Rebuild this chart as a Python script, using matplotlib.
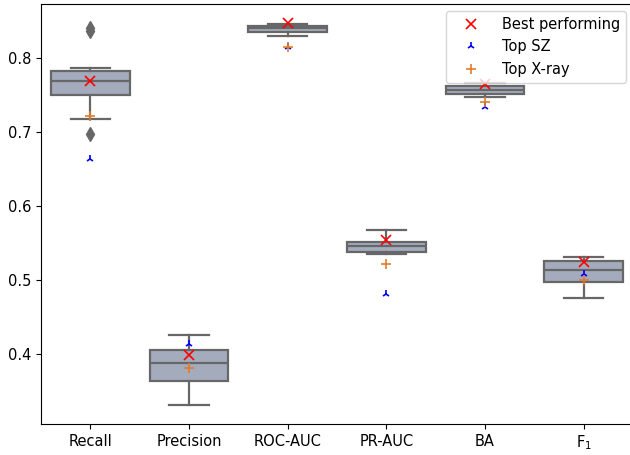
import matplotlib
matplotlib.use('Agg')
import matplotlib.pyplot as plt

# metricas
metricas = ['Recall', 'Precision', 'ROC-AUC', 'PR-AUC', 'BA', r'F$_1$']

# estadisticas de las cajas
q1 = [0.750, 0.364, 0.8355, 0.538, 0.752, 0.498]
mediana = [0.769, 0.388, 0.840, 0.546, 0.757, 0.5145]
q3 = [0.783, 0.406, 0.843, 0.552, 0.762, 0.5266]
bigote_inf = [0.718, 0.332, 0.830, 0.535, 0.748, 0.4764]
bigote_sup = [0.786, 0.4256, 0.846, 0.5684, 0.766, 0.5316]
atipicos = [[0.840, 0.837, 0.697], [], [], [], [], []]

# modelos destacados
mejor = [0.769, 0.399, 0.8475, 0.554, 0.765, 0.525]
top_sz = [0.664, 0.4135, 0.815, 0.482, 0.734, 0.509]
top_xray = [0.722, 0.3815, 0.815, 0.522, 0.741, 0.501]

stats = []
for i in range(len(metricas)):
    stats.append({'med': mediana[i], 'q1': q1[i], 'q3': q3[i],
                  'whislo': bigote_inf[i], 'whishi': bigote_sup[i],
                  'fliers': atipicos[i]})

gris = '#676767'
fig = plt.figure(figsize=(6.3, 4.55), dpi=100)
ax = fig.add_axes([41 / 630, 1 - 424 / 455, 592 / 630, 420 / 455])

ax.bxp(stats, positions=range(len(metricas)), widths=0.8, patch_artist=True,
       boxprops=dict(facecolor='#a3abbc', edgecolor=gris, linewidth=1.6),
       medianprops=dict(color=gris, linewidth=1.6),
       whiskerprops=dict(color=gris, linewidth=1.6),
       capprops=dict(color=gris, linewidth=1.6),
       flierprops=dict(marker='d', markerfacecolor=gris, markeredgecolor=gris,
                       markersize=7, linestyle='none'),
       zorder=2)

x = range(len(metricas))
ax.plot(x, mejor, 'x', color='red', markersize=7, markeredgewidth=1.2,
        linestyle='none', label='Best performing', zorder=5)
ax.plot(x, top_sz, '2', color='blue', markersize=6, markeredgewidth=1.2,
        linestyle='none', label='Top SZ', zorder=4)
ax.plot(x, top_xray, '+', color='#e07b2e', markersize=7, markeredgewidth=1.2,
        linestyle='none', label='Top X-ray', zorder=4)

ax.set_xticks(list(x))
ax.set_xticklabels(metricas, fontsize=10.5)
ax.tick_params(axis='y', labelsize=10.5)
ax.set_xlim(-0.5, 5.5)
ax.set_ylim(0.306, 0.873)
ax.set_yticks([0.4, 0.5, 0.6, 0.7, 0.8])

ax.legend(loc='upper right', fontsize=10.5, handlelength=2.6)

fig.savefig('out.png', dpi=100)
